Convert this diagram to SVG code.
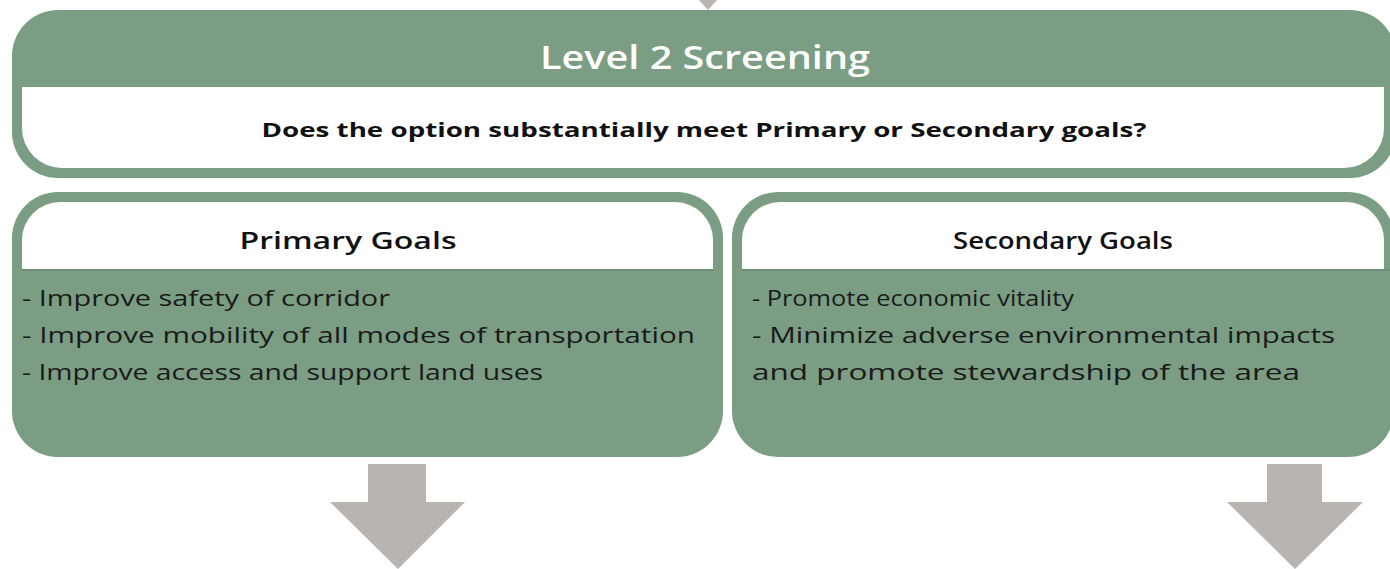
<svg xmlns="http://www.w3.org/2000/svg" width="1390" height="569" viewBox="0 0 1390 569">
<style>
.g{fill:#7a9d84}
.w{fill:#ffffff}
.ar{fill:#b9b4af}
.hd{font-family:"Open Sans","Noto Sans",sans-serif;fill:#ffffff;font-weight:600}
.q{font-family:"Open Sans","Noto Sans",sans-serif;fill:#111;font-weight:700}
.sh{font-family:"Open Sans","Noto Sans",sans-serif;fill:#111;font-weight:600}
.b{font-family:"Open Sans","Noto Sans",sans-serif;fill:#1a1a1a;font-weight:400}
</style>
<rect width="1390" height="569" fill="#ffffff"/>
<g id="connectors">
<polygon class="ar" points="699,0 717,0 708,10"/>
<polygon class="ar" points="368,464 426,464 426,502 465,502 398,569 330,502 368,502"/>
<polygon class="ar" points="1267,464 1322,464 1322,502 1363,502 1295,569 1227,502 1267,502"/>
</g>
<g id="level2">
<rect class="g" x="12" y="10" width="1384" height="168" rx="46" ry="46"/>
<path class="w" d="M22,87 H1384 V128 A40,40 0 0 1 1344,168 H62 A40,40 0 0 1 22,128 Z"/>
<text class="hd" x="705" y="69" font-size="32" text-anchor="middle" textLength="330" lengthAdjust="spacingAndGlyphs">Level 2 Screening</text>
<text class="q" x="704" y="137" font-size="19" text-anchor="middle" textLength="885" lengthAdjust="spacingAndGlyphs">Does the option substantially meet Primary or Secondary goals?</text>
</g>
<g id="primary">
<rect class="g" x="12" y="192" width="711" height="265" rx="46" ry="46"/>
<path class="w" d="M22,270 V240 A38,38 0 0 1 60,202 H675 A38,38 0 0 1 713,240 V270 Z"/>
<rect x="22" y="269" width="691" height="2" fill="#6d8f77"/>
<text class="sh" x="348" y="249" font-size="23" text-anchor="middle" textLength="217" lengthAdjust="spacingAndGlyphs">Primary Goals</text>
<text class="b" x="22" y="306" font-size="22" textLength="368" lengthAdjust="spacingAndGlyphs">- Improve safety of corridor</text>
<text class="b" x="22" y="343" font-size="22" textLength="673" lengthAdjust="spacingAndGlyphs">- Improve mobility of all modes of transportation</text>
<text class="b" x="22" y="380" font-size="22" textLength="521" lengthAdjust="spacingAndGlyphs">- Improve access and support land uses</text>
</g>
<g id="secondary">
<rect class="g" x="732" y="192" width="662" height="265" rx="46" ry="46"/>
<path class="w" d="M742,270 V240 A38,38 0 0 1 780,202 H1346 A38,38 0 0 1 1384,240 V270 Z"/>
<rect x="742" y="269" width="648" height="2" fill="#6d8f77"/>
<text class="sh" x="1063" y="249" font-size="23" text-anchor="middle" textLength="220" lengthAdjust="spacingAndGlyphs">Secondary Goals</text>
<text class="b" x="752" y="306" font-size="22" textLength="322" lengthAdjust="spacingAndGlyphs">- Promote economic vitality</text>
<text class="b" x="752" y="343" font-size="22" textLength="583" lengthAdjust="spacingAndGlyphs">- Minimize adverse environmental impacts</text>
<text class="b" x="752" y="380" font-size="22" textLength="548" lengthAdjust="spacingAndGlyphs">and promote stewardship of the area</text>
</g>
</svg>
